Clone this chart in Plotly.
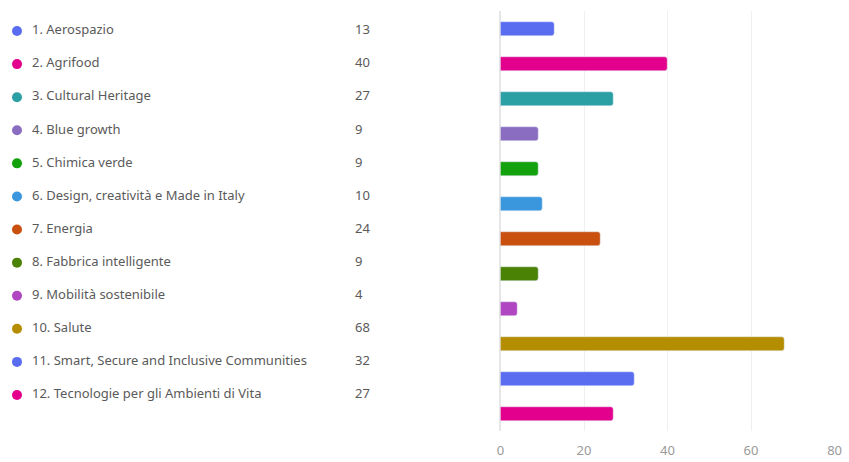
import plotly.graph_objects as go

# Data
categories = [
    "1. Aerospazio",
    "2. Agrifood",
    "3. Cultural Heritage",
    "4. Blue growth",
    "5. Chimica verde",
    "6. Design, creatività e Made in Italy",
    "7. Energia",
    "8. Fabbrica intelligente",
    "9. Mobilità sostenibile",
    "10. Salute",
    "11. Smart, Secure and Inclusive Communities",
    "12. Tecnologie per gli Ambienti di Vita",
]
counts = [13, 40, 27, 9, 9, 10, 24, 9, 4, 68, 32, 27]
colors = [
    "#5A6DF0", "#E3008C", "#2A9FA4", "#8A6CC0", "#13A10E", "#3A96DD",
    "#CA5010", "#498205", "#B146C2", "#B58D00", "#5A6DF0", "#E3008C",
]
x_ticks = [0, 20, 40, 60, 80]

idx = list(range(len(categories)))
font_family = "Noto Sans, Open Sans, sans-serif"

W, H = 849, 462

fig = go.Figure()

# bars on the right
fig.add_trace(go.Bar(
    x=counts,
    y=idx,
    orientation="h",
    width=0.4,
    marker=dict(color=colors, cornerradius=3),
    hoverinfo="skip",
    showlegend=False,
))

# left list: dots, labels, values
fig.add_trace(go.Scatter(
    x=[17] * len(idx), y=idx, mode="markers",
    marker=dict(color=colors, size=10),
    xaxis="x2", yaxis="y2", showlegend=False, hoverinfo="skip",
))
fig.add_trace(go.Scatter(
    x=[32] * len(idx), y=idx, mode="text",
    text=categories, textposition="middle right",
    textfont=dict(family=font_family, size=13, color="#5A5A5A"),
    xaxis="x2", yaxis="y2", showlegend=False, hoverinfo="skip",
))
fig.add_trace(go.Scatter(
    x=[355] * len(idx), y=idx, mode="text",
    text=[str(c) for c in counts], textposition="middle right",
    textfont=dict(family=font_family, size=13, color="#5A5A5A"),
    xaxis="x2", yaxis="y2", showlegend=False, hoverinfo="skip",
))

fig.update_layout(
    width=W,
    height=H,
    margin=dict(l=0, r=0, t=11, b=31),
    paper_bgcolor="white",
    plot_bgcolor="white",
    font=dict(family=font_family, size=12, color="#555555"),
    bargap=0,
    xaxis=dict(
        domain=[0.5895, 0.983],
        range=[0, 80],
        tickvals=x_ticks,
        showgrid=True,
        gridcolor="#EFEFEF",
        zeroline=True,
        zerolinecolor="#E6E6E6",
        showline=False,
        tickfont=dict(size=13, color="#9A9A9A"),
        ticklabelstandoff=10,
        automargin=False,
        fixedrange=True,
    ),
    yaxis=dict(
        range=[11.5, -0.5],
        showticklabels=False,
        showgrid=False,
        zeroline=False,
        automargin=False,
        fixedrange=True,
    ),
    xaxis2=dict(
        domain=[0, 0.5],
        range=[0, W * 0.5],
        visible=False,
        fixedrange=True,
    ),
    yaxis2=dict(
        domain=[0.0464, 0.9917],
        range=[11.5, -0.5],
        anchor="x2",
        visible=False,
        fixedrange=True,
    ),
)

# drop the default body margin so the figure fills the window exactly
fig.write_html(
    "out.html",
    config={"displayModeBar": False},
    post_script="document.body.style.margin = '0px';",
)
